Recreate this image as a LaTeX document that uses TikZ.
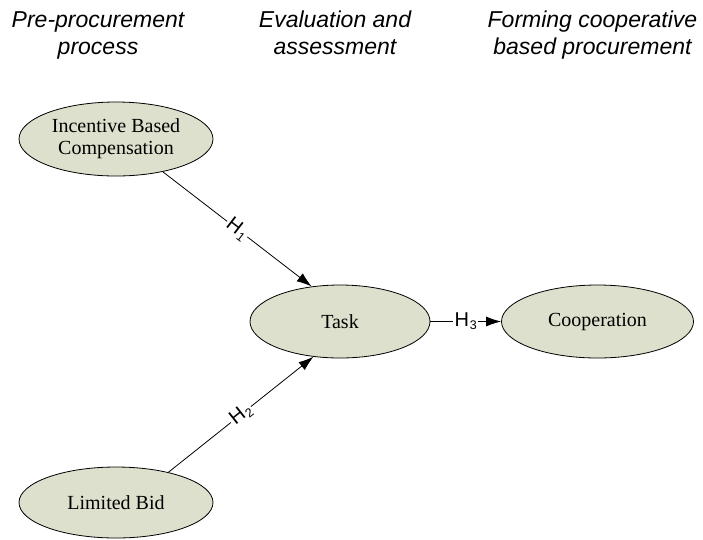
\documentclass[tikz,border=0pt]{standalone}
\usepackage{fontspec}
\setmainfont{Liberation Serif}
\setsansfont{Liberation Sans}
\usetikzlibrary{shapes.geometric,arrows.meta}
\definecolor{ellfill}{RGB}{221,224,204}
\newcommand\hsub[1]{\kern0.8pt\raisebox{-3pt}{\fontsize{12.5}{12.5}\selectfont #1}}
\begin{document}
\begin{tikzpicture}[x=1pt,y=-1pt,
  construct/.style={ellipse, draw=black, line width=0.8pt, fill=ellfill, inner sep=0pt,
    font=\fontsize{20}{22}\selectfont, align=center},
  heading/.style={font=\sffamily\itshape\fontsize{23}{27}\selectfont, align=center},
  link/.style={line width=0.8pt, -{Latex[length=15pt,width=10pt]}},
  hlabel/.style={fill=white, inner sep=1.5pt, font=\sffamily\fontsize{20}{22}\selectfont}]
\useasboundingbox[fill=white] (0,0) rectangle (703,539);
\node[heading] (t1) at (98,36) {\strut Pre-procurement\\\strut process};
\node[heading] (t2) at (335,36) {\strut Evaluation and\\\strut assessment};
\node[heading] (t3) at (592.5,36) {\strut Forming cooperative\\\strut based procurement};
\node[construct, minimum width=194pt, minimum height=74pt] (inc) at (116,139) {Incentive Based\\Compensation};
\node[construct, minimum width=180pt, minimum height=73pt] (task) at (340,321.5) {Task};
\node[construct, minimum width=192pt, minimum height=73pt] (coop) at (597.5,321.5) {Cooperation};
\node[construct, minimum width=194pt, minimum height=71pt] (lim) at (116,502.5) {Limited Bid};
\draw[link] (inc.-35) -- node[hlabel, sloped] {H\hsub{1}} (task.129);
\draw[link] (lim.30) -- node[hlabel, sloped] {H\hsub{2}} (task.-127);
\draw[link] (task.east) -- node[hlabel, inner sep=1.5pt] {H\hsub{3}} (coop.west);
\end{tikzpicture}
\end{document}
